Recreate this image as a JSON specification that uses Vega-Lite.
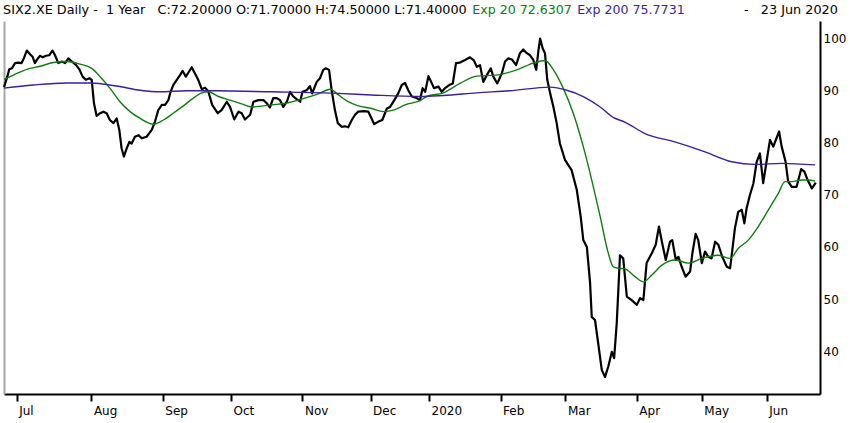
{
  "$schema": "https://vega.github.io/schema/vega-lite/v6.json",
  "width": 816,
  "height": 373,
  "autosize": {"type": "none"},
  "padding": {"left": 4, "top": 21, "right": 30, "bottom": 29},
  "background": "white",
  "config": {
    "view": {"stroke": null},
    "font": "DejaVu Sans",
    "axis": {"labelFont": "DejaVu Sans", "labelFontSize": 12, "labelColor": "#000000", "grid": false}
  },
  "datasets": {
    "close": [
      {"session": 1.1, "price": 90.6}, {"session": 2.1, "price": 92.6}, {"session": 2.7, "price": 94.0}, {"session": 3.5, "price": 94.2},
      {"session": 4.5, "price": 95.2}, {"session": 5.5, "price": 95.3}, {"session": 6.5, "price": 95.2}, {"session": 7.2, "price": 96.1},
      {"session": 8.1, "price": 97.6}, {"session": 9.1, "price": 96.9}, {"session": 9.9, "price": 96.4}, {"session": 10.6, "price": 95.2},
      {"session": 11.3, "price": 95.9}, {"session": 12.2, "price": 96.6}, {"session": 13.0, "price": 96.3}, {"session": 14.0, "price": 96.6},
      {"session": 15.0, "price": 96.7}, {"session": 16.0, "price": 97.6}, {"session": 16.8, "price": 96.7}, {"session": 17.8, "price": 95.2},
      {"session": 18.9, "price": 95.5}, {"session": 19.9, "price": 95.2}, {"session": 20.9, "price": 96.1}, {"session": 22.0, "price": 95.5},
      {"session": 23.3, "price": 94.8}, {"session": 24.3, "price": 94.0}, {"session": 25.3, "price": 92.6}, {"session": 26.3, "price": 92.0},
      {"session": 27.4, "price": 92.3}, {"session": 28.1, "price": 92.0}, {"session": 28.8, "price": 87.5}, {"session": 29.6, "price": 85.1},
      {"session": 30.7, "price": 85.6}, {"session": 31.7, "price": 85.9}, {"session": 32.7, "price": 85.6}, {"session": 33.7, "price": 84.3},
      {"session": 34.8, "price": 83.7}, {"session": 35.8, "price": 84.6}, {"session": 36.6, "price": 82.4}, {"session": 37.3, "price": 78.9},
      {"session": 38.0, "price": 77.3}, {"session": 38.9, "price": 78.9}, {"session": 39.7, "price": 80.1}, {"session": 40.4, "price": 79.8},
      {"session": 41.4, "price": 81.1}, {"session": 42.5, "price": 81.4}, {"session": 43.5, "price": 80.8}, {"session": 45.0, "price": 81.1},
      {"session": 46.6, "price": 82.4}, {"session": 47.6, "price": 84.0}, {"session": 48.6, "price": 86.2}, {"session": 49.7, "price": 87.2},
      {"session": 50.7, "price": 87.2}, {"session": 51.7, "price": 88.1}, {"session": 52.4, "price": 89.7}, {"session": 53.2, "price": 91.0},
      {"session": 54.3, "price": 92.0}, {"session": 55.3, "price": 92.9}, {"session": 56.1, "price": 93.7}, {"session": 57.1, "price": 92.6},
      {"session": 57.9, "price": 93.4}, {"session": 58.9, "price": 94.4}, {"session": 59.9, "price": 93.2}, {"session": 60.9, "price": 92.0},
      {"session": 62.0, "price": 90.2}, {"session": 63.0, "price": 90.5}, {"session": 64.0, "price": 89.8}, {"session": 65.2, "price": 87.2},
      {"session": 66.9, "price": 85.6}, {"session": 68.1, "price": 86.2}, {"session": 69.7, "price": 87.8}, {"session": 70.7, "price": 86.8},
      {"session": 72.0, "price": 84.4}, {"session": 73.3, "price": 85.9}, {"session": 74.3, "price": 85.6}, {"session": 75.3, "price": 84.4},
      {"session": 76.9, "price": 85.3}, {"session": 77.9, "price": 87.8}, {"session": 79.4, "price": 88.1}, {"session": 81.0, "price": 88.1},
      {"session": 82.0, "price": 87.5}, {"session": 83.0, "price": 86.7}, {"session": 84.0, "price": 88.5}, {"session": 85.1, "price": 88.5},
      {"session": 86.1, "price": 88.1}, {"session": 87.1, "price": 86.8}, {"session": 88.2, "price": 87.8}, {"session": 89.2, "price": 89.7},
      {"session": 90.2, "price": 88.8}, {"session": 91.2, "price": 88.3}, {"session": 92.3, "price": 87.8}, {"session": 93.0, "price": 89.7},
      {"session": 94.3, "price": 90.0}, {"session": 95.3, "price": 90.8}, {"session": 96.0, "price": 89.4}, {"session": 97.4, "price": 91.6},
      {"session": 98.4, "price": 92.3}, {"session": 99.4, "price": 93.9}, {"session": 100.2, "price": 94.2}, {"session": 101.2, "price": 93.9},
      {"session": 102.0, "price": 90.0}, {"session": 103.0, "price": 86.2}, {"session": 103.9, "price": 83.7}, {"session": 105.1, "price": 83.0},
      {"session": 106.1, "price": 83.1}, {"session": 107.1, "price": 82.9}, {"session": 108.2, "price": 84.3}, {"session": 109.2, "price": 85.3},
      {"session": 110.2, "price": 85.9}, {"session": 111.8, "price": 86.0}, {"session": 113.3, "price": 85.9}, {"session": 114.3, "price": 84.6},
      {"session": 115.1, "price": 83.5}, {"session": 116.4, "price": 84.0}, {"session": 117.6, "price": 84.3}, {"session": 119.0, "price": 86.5},
      {"session": 120.0, "price": 86.8}, {"session": 121.3, "price": 88.1}, {"session": 122.5, "price": 89.4}, {"session": 123.6, "price": 91.0},
      {"session": 124.6, "price": 91.4}, {"session": 125.6, "price": 90.0}, {"session": 126.7, "price": 88.8}, {"session": 128.2, "price": 88.5},
      {"session": 129.2, "price": 88.1}, {"session": 130.0, "price": 90.4}, {"session": 130.8, "price": 89.7}, {"session": 131.8, "price": 92.7},
      {"session": 132.8, "price": 91.4}, {"session": 133.5, "price": 90.4}, {"session": 134.9, "price": 90.7}, {"session": 135.9, "price": 89.7},
      {"session": 136.9, "price": 90.4}, {"session": 138.2, "price": 91.0}, {"session": 139.3, "price": 91.3}, {"session": 140.3, "price": 95.2},
      {"session": 141.5, "price": 95.3}, {"session": 143.1, "price": 95.8}, {"session": 144.6, "price": 96.3}, {"session": 145.8, "price": 95.7},
      {"session": 146.7, "price": 94.5}, {"session": 147.7, "price": 94.8}, {"session": 148.7, "price": 91.6}, {"session": 149.8, "price": 92.9},
      {"session": 151.0, "price": 94.2}, {"session": 151.8, "price": 92.6}, {"session": 153.0, "price": 91.3}, {"session": 154.4, "price": 93.2},
      {"session": 155.4, "price": 95.5}, {"session": 156.4, "price": 96.1}, {"session": 157.5, "price": 95.9}, {"session": 158.8, "price": 94.8},
      {"session": 160.0, "price": 97.1}, {"session": 161.0, "price": 97.8}, {"session": 162.1, "price": 97.1}, {"session": 163.1, "price": 96.7},
      {"session": 164.1, "price": 95.8}, {"session": 165.0, "price": 93.9}, {"session": 165.7, "price": 97.7}, {"session": 166.2, "price": 99.9},
      {"session": 167.0, "price": 98.0}, {"session": 167.7, "price": 97.1}, {"session": 168.4, "price": 92.0}, {"session": 169.3, "price": 89.4},
      {"session": 170.3, "price": 86.8}, {"session": 171.3, "price": 83.7}, {"session": 172.3, "price": 79.8}, {"session": 173.9, "price": 76.6},
      {"session": 175.9, "price": 74.7}, {"session": 177.5, "price": 70.9}, {"session": 178.7, "price": 65.8}, {"session": 179.5, "price": 61.3},
      {"session": 180.6, "price": 60.0}, {"session": 181.6, "price": 53.0}, {"session": 182.1, "price": 46.6}, {"session": 183.1, "price": 46.0},
      {"session": 184.1, "price": 41.5}, {"session": 185.2, "price": 36.4}, {"session": 186.2, "price": 35.1}, {"session": 187.2, "price": 37.1},
      {"session": 188.3, "price": 39.9}, {"session": 189.0, "price": 38.7}, {"session": 189.8, "price": 45.4}, {"session": 190.8, "price": 58.4},
      {"session": 191.8, "price": 57.8}, {"session": 192.9, "price": 50.5}, {"session": 194.4, "price": 49.8}, {"session": 196.0, "price": 48.9},
      {"session": 197.0, "price": 50.2}, {"session": 198.0, "price": 49.8}, {"session": 199.0, "price": 56.9}, {"session": 200.6, "price": 58.8},
      {"session": 201.8, "price": 60.4}, {"session": 202.8, "price": 63.9}, {"session": 203.8, "price": 60.7}, {"session": 204.9, "price": 57.5},
      {"session": 206.2, "price": 61.0}, {"session": 206.9, "price": 61.3}, {"session": 208.0, "price": 57.5}, {"session": 208.8, "price": 58.1},
      {"session": 209.8, "price": 56.2}, {"session": 211.0, "price": 54.3}, {"session": 212.4, "price": 55.3}, {"session": 213.1, "price": 58.8},
      {"session": 214.1, "price": 62.5}, {"session": 214.9, "price": 61.3}, {"session": 216.0, "price": 56.9}, {"session": 217.0, "price": 59.1},
      {"session": 218.0, "price": 58.1}, {"session": 219.0, "price": 57.8}, {"session": 220.1, "price": 61.0}, {"session": 221.1, "price": 60.4},
      {"session": 222.3, "price": 58.1}, {"session": 223.7, "price": 56.2}, {"session": 224.7, "price": 55.9}, {"session": 225.4, "price": 59.4},
      {"session": 226.2, "price": 63.6}, {"session": 227.2, "price": 66.7}, {"session": 228.3, "price": 67.1}, {"session": 229.1, "price": 64.5},
      {"session": 229.8, "price": 67.4}, {"session": 230.8, "price": 69.9}, {"session": 231.9, "price": 72.2}, {"session": 232.9, "price": 76.3},
      {"session": 233.9, "price": 77.9}, {"session": 234.9, "price": 72.2}, {"session": 236.0, "price": 76.6}, {"session": 237.0, "price": 80.5},
      {"session": 238.0, "price": 79.2}, {"session": 239.8, "price": 82.1}, {"session": 240.6, "price": 79.2}, {"session": 241.8, "price": 76.3},
      {"session": 242.6, "price": 72.5}, {"session": 243.7, "price": 71.5}, {"session": 245.2, "price": 71.5}, {"session": 246.6, "price": 74.9},
      {"session": 247.6, "price": 74.4}, {"session": 248.6, "price": 72.8}, {"session": 249.9, "price": 71.2}, {"session": 251.1, "price": 72.3}
    ],
    "ema20": [
      {"session": 1.1, "price": 92.1}, {"session": 4.0, "price": 92.9}, {"session": 8.1, "price": 94.0}, {"session": 12.2, "price": 94.6},
      {"session": 16.3, "price": 95.3}, {"session": 20.4, "price": 95.5}, {"session": 24.5, "price": 95.0}, {"session": 28.1, "price": 94.2},
      {"session": 30.7, "price": 92.6}, {"session": 33.7, "price": 90.4}, {"session": 36.8, "price": 87.8}, {"session": 39.9, "price": 85.9},
      {"session": 43.0, "price": 84.6}, {"session": 47.1, "price": 83.5}, {"session": 50.2, "price": 84.3}, {"session": 53.2, "price": 85.6},
      {"session": 56.3, "price": 87.0}, {"session": 59.4, "price": 88.5}, {"session": 62.0, "price": 89.5}, {"session": 64.0, "price": 89.7},
      {"session": 67.1, "price": 88.8}, {"session": 71.2, "price": 88.0}, {"session": 74.3, "price": 87.4}, {"session": 77.4, "price": 86.8},
      {"session": 83.5, "price": 87.2}, {"session": 88.6, "price": 87.6}, {"session": 93.8, "price": 88.5}, {"session": 97.9, "price": 89.3},
      {"session": 101.5, "price": 90.2}, {"session": 104.1, "price": 89.1}, {"session": 107.1, "price": 87.8}, {"session": 110.2, "price": 87.0},
      {"session": 114.3, "price": 86.5}, {"session": 117.9, "price": 85.9}, {"session": 121.5, "price": 86.3}, {"session": 124.6, "price": 87.2},
      {"session": 129.2, "price": 88.0}, {"session": 131.3, "price": 88.8}, {"session": 136.4, "price": 89.5}, {"session": 141.5, "price": 91.3},
      {"session": 146.7, "price": 92.7}, {"session": 152.8, "price": 92.9}, {"session": 159.0, "price": 93.9}, {"session": 164.1, "price": 95.2},
      {"session": 167.7, "price": 95.7}, {"session": 170.3, "price": 93.9}, {"session": 173.3, "price": 90.4}, {"session": 176.4, "price": 85.6},
      {"session": 179.5, "price": 79.2}, {"session": 182.1, "price": 72.8}, {"session": 184.7, "price": 65.8}, {"session": 187.2, "price": 58.8},
      {"session": 188.7, "price": 56.2}, {"session": 190.3, "price": 55.9}, {"session": 192.3, "price": 55.8}, {"session": 195.4, "price": 54.3},
      {"session": 198.0, "price": 53.3}, {"session": 200.6, "price": 54.6}, {"session": 203.7, "price": 56.5}, {"session": 207.8, "price": 57.5},
      {"session": 211.8, "price": 56.9}, {"session": 216.0, "price": 57.8}, {"session": 221.1, "price": 58.4}, {"session": 224.7, "price": 57.8},
      {"session": 227.2, "price": 59.7}, {"session": 230.3, "price": 61.3}, {"session": 233.4, "price": 63.9}, {"session": 236.5, "price": 67.1},
      {"session": 239.6, "price": 70.3}, {"session": 241.6, "price": 72.5}, {"session": 243.7, "price": 72.5}, {"session": 246.8, "price": 72.8},
      {"session": 248.8, "price": 72.8}, {"session": 250.9, "price": 72.6}
    ],
    "ema200": [
      {"session": 1.1, "price": 90.4}, {"session": 10.1, "price": 91.0}, {"session": 20.4, "price": 91.4}, {"session": 27.6, "price": 91.4},
      {"session": 35.8, "price": 90.8}, {"session": 43.0, "price": 90.0}, {"session": 49.1, "price": 89.7}, {"session": 57.4, "price": 89.9},
      {"session": 66.1, "price": 89.9}, {"session": 83.5, "price": 89.7}, {"session": 104.1, "price": 89.4}, {"session": 114.3, "price": 89.1},
      {"session": 129.2, "price": 88.8}, {"session": 136.4, "price": 89.0}, {"session": 146.7, "price": 89.5}, {"session": 156.9, "price": 89.9},
      {"session": 169.3, "price": 90.6}, {"session": 174.4, "price": 90.0}, {"session": 179.5, "price": 88.8}, {"session": 184.7, "price": 86.8},
      {"session": 188.7, "price": 84.8}, {"session": 192.3, "price": 83.9}, {"session": 198.5, "price": 81.7}, {"session": 207.7, "price": 80.1},
      {"session": 217.0, "price": 78.2}, {"session": 225.2, "price": 76.3}, {"session": 232.4, "price": 75.8}, {"session": 240.6, "price": 76.0},
      {"session": 250.9, "price": 75.7}
    ]
  },
  "layer": [
    {
      "data": {"name": "close"},
      "mark": {"type": "line", "color": "#000000", "strokeWidth": 2.2, "strokeJoin": "round"},
      "encoding": {
        "x": {
          "field": "session",
          "type": "quantitative",
          "scale": {"domain": [1.087, 252.4], "nice": false, "zero": false},
          "axis": {
            "title": null,
            "values": [5, 28, 50, 71, 93, 114, 132, 154, 174, 196, 216, 236],
            "labelExpr": "['Jul','Aug','Sep','Oct','Nov','Dec','2020','Feb','Mar','Apr','May','Jun'][indexof([5,28,50,71,93,114,132,154,174,196,216,236], datum.value)]",
            "domainColor": "#000000",
            "domainWidth": 2,
            "tickColor": "#000000",
            "tickWidth": 2,
            "tickSize": 7,
            "labelAlign": "left",
            "labelBaseline": "top",
            "labelOffset": 2,
            "labelPadding": 4,
            "labelOverlap": false,
            "labelFlush": false,
            "labelBound": false
          }
        },
        "y": {
          "field": "price",
          "type": "quantitative",
          "scale": {"domain": [31.83, 103.26], "nice": false, "zero": false},
          "axis": {
            "orient": "right",
            "title": null,
            "values": [40, 50, 60, 70, 80, 90, 100],
            "ticks": false,
            "tickSize": 0,
            "domainColor": "#000000",
            "domainWidth": 2,
            "labelPadding": 3,
            "labelAlign": "left",
            "labelBaseline": "middle",
            "labelFlush": false
          }
        }
      }
    },
    {
      "data": {"name": "ema20"},
      "mark": {"type": "line", "color": "#127a12", "strokeWidth": 1.4, "interpolate": "monotone"},
      "encoding": {
        "x": {"field": "session", "type": "quantitative"},
        "y": {
          "field": "price",
          "type": "quantitative",
          "axis": {"orient": "left", "title": null, "labels": false, "ticks": false, "values": [], "domainColor": "#a8a8a8", "domainWidth": 2}
        }
      }
    },
    {
      "data": {"name": "ema200"},
      "mark": {"type": "line", "color": "#3a1f9a", "strokeWidth": 1.4, "interpolate": "monotone"},
      "encoding": {
        "x": {"field": "session", "type": "quantitative"},
        "y": {"field": "price", "type": "quantitative", "axis": null}
      }
    },
    {
      "data": {"values": [{"label": "SIX2.XE Daily -\u00a0 1 Year\u00a0\u00a0 C:72.20000 O:71.70000 H:74.50000 L:71.40000"}]},
      "mark": {"type": "text", "align": "left", "baseline": "alphabetic", "fontSize": 12.8, "font": "DejaVu Sans", "color": "#000000"},
      "encoding": {
        "x": {"datum": 0.78, "type": "quantitative"},
        "y": {"datum": 104.6, "type": "quantitative", "axis": null},
        "text": {"field": "label"}
      }
    },
    {
      "data": {"values": [{"label": "Exp 20 72.6307"}]},
      "mark": {"type": "text", "align": "left", "baseline": "alphabetic", "fontSize": 12.6, "font": "DejaVu Sans", "color": "#127a12"},
      "encoding": {
        "x": {"datum": 145.3, "type": "quantitative"},
        "y": {"datum": 104.6, "type": "quantitative", "axis": null},
        "text": {"field": "label"}
      }
    },
    {
      "data": {"values": [{"label": "Exp 200 75.7731"}]},
      "mark": {"type": "text", "align": "left", "baseline": "alphabetic", "fontSize": 12.6, "font": "DejaVu Sans", "color": "#3a1f9a"},
      "encoding": {
        "x": {"datum": 177.6, "type": "quantitative"},
        "y": {"datum": 104.6, "type": "quantitative", "axis": null},
        "text": {"field": "label"}
      }
    },
    {
      "data": {"values": [{"label": "-\u00a0\u00a0 23 Jun 2020"}]},
      "mark": {"type": "text", "align": "right", "baseline": "alphabetic", "fontSize": 12.8, "font": "DejaVu Sans", "color": "#000000"},
      "encoding": {
        "x": {"datum": 257.9, "type": "quantitative"},
        "y": {"datum": 104.6, "type": "quantitative", "axis": null},
        "text": {"field": "label"}
      }
    }
  ],
  "resolve": {"axis": {"y": "independent"}}
}
